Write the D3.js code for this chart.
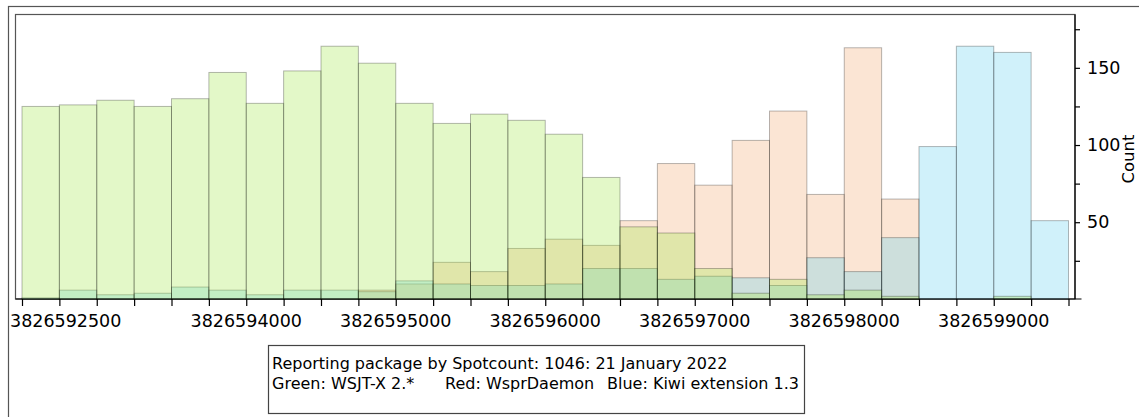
<!DOCTYPE html>
<html>
<head>
<meta charset="utf-8">
<script src="https://cdn.jsdelivr.net/npm/d3@7"></script>
<style>
  html, body { margin: 0; padding: 0; background: #fff; }
  svg { display: block; }
  text { font-family: "DejaVu Sans", sans-serif; fill: #000; }
</style>
</head>
<body>
<svg id="chart" width="1139" height="417"></svg>
<script>
// Histogram of spot frequencies (Hz), 250 Hz bins, one series per reporting package
const binStart = 3826592500;
const binWidth = 250;

const wsjtCounts   = [125, 126, 129, 125, 130, 147, 127, 148, 164, 153, 127, 114, 120, 116, 107, 79, 47, 43, 20, 4, 13, 3, 6, 2, 0, 0, 2, 0];
const daemonCounts = [0, 0, 0, 0, 0, 0, 0, 0, 0, 6, 10, 24, 18, 33, 39, 35, 51, 88, 74, 103, 122, 68, 163, 65, 0, 0, 0, 0];
const kiwiCounts   = [1, 6, 3, 4, 8, 6, 3, 6, 6, 5, 12, 10, 9, 9, 10, 20, 20, 13, 15, 14, 9, 27, 18, 40, 99, 164, 160, 51];

const xTickLabels = [3826592500, 3826594000, 3826595000, 3826596000, 3826597000, 3826598000, 3826599000];
const yTickValues = [25, 50, 75, 100, 125, 150, 175];
const yTickLabels = [50, 100, 150];

const titleLine = "Reporting package by Spotcount: 1046: 21 January 2022";
const legendItems = ["Green: WSJT-X 2.*", "Red: WsprDaemon", "Blue: Kiwi extension 1.3"];

// drawn bottom to top
const series = [
  { name: "WsprDaemon", counts: daemonCounts, color: "rgb(242,168,112)" },
  { name: "Kiwi extension 1.3", counts: kiwiCounts, color: "rgb(98,208,238)" },
  { name: "WSJT-X 2.*", counts: wsjtCounts, color: "rgb(162,232,72)" }
];

const nBins = wsjtCounts.length;
const edges = d3.range(nBins + 1).map(i => binStart + i * binWidth);

const svg = d3.select("#chart");

const plot = { left: 15.5, top: 14.5, right: 1075, bottom: 299 };

const x = d3.scaleLinear()
  .domain([binStart, binStart + nBins * binWidth])
  .range([22, 1068.5]);

const y = d3.scaleLinear()
  .domain([0, 185])
  .range([299.4, 13.8]);

// outer frame
svg.append("rect")
  .attr("x", 8.5).attr("y", 6.5)
  .attr("width", 1300).attr("height", 600)
  .attr("fill", "none")
  .attr("stroke", "#555").attr("stroke-width", 1.2);

// plot frame
svg.append("rect")
  .attr("x", plot.left).attr("y", plot.top)
  .attr("width", plot.right - plot.left).attr("height", plot.bottom - plot.top)
  .attr("fill", "none")
  .attr("stroke", "#555").attr("stroke-width", 1.2);

// bars
series.forEach(s => {
  const bins = s.counts.map((c, i) => ({ x0: edges[i], x1: edges[i + 1], c }))
    .filter(d => d.c > 0);
  svg.append("g")
    .selectAll("rect")
    .data(bins)
    .join("rect")
    .attr("x", d => x(d.x0))
    .attr("y", d => y(d.c))
    .attr("width", d => x(d.x1) - x(d.x0))
    .attr("height", d => y(0) - y(d.c))
    .attr("fill", s.color)
    .attr("fill-opacity", 0.3)
    .attr("stroke", "#000")
    .attr("stroke-opacity", 0.28)
    .attr("stroke-width", 1);
});

// bottom axis: tick at every bin edge
const xAxis = svg.append("g")
  .attr("transform", `translate(0,${plot.bottom})`)
  .call(d3.axisBottom(x).tickValues(edges).tickSize(7).tickFormat(""));
xAxis.select(".domain").remove();
xAxis.selectAll(".tick line").attr("stroke", "#000").attr("stroke-width", 1.2);
svg.append("line")
  .attr("x1", plot.left).attr("x2", 1081.5)
  .attr("y1", plot.bottom).attr("y2", plot.bottom)
  .attr("stroke", "#000").attr("stroke-width", 1.2);

// bottom tick labels (first one kept inside the frame)
const fmt = d3.format("d");
const xl = svg.append("g");
xTickLabels.forEach(v => {
  const t = xl.append("text")
    .attr("y", 326.5)
    .attr("font-size", "17.5px")
    .attr("text-anchor", "middle")
    .attr("x", x(v))
    .text(fmt(v));
  const w = t.node().getComputedTextLength();
  if (x(v) - w / 2 < 10) t.attr("text-anchor", "start").attr("x", 10);
});

// right axis
const yAxis = svg.append("g")
  .attr("transform", `translate(${plot.right},0)`)
  .call(d3.axisRight(y).tickValues(yTickValues).tickSize(5).tickPadding(7)
    .tickFormat(d => yTickLabels.includes(d) ? d : ""));
yAxis.select(".domain").remove();
yAxis.selectAll(".tick line").attr("stroke", "#000").attr("stroke-width", 1.2);
yAxis.selectAll(".tick text")
  .attr("font-family", "DejaVu Sans, sans-serif")
  .attr("font-size", "17.5px")
  .attr("fill", "#000");
svg.append("line")
  .attr("x1", plot.right).attr("x2", plot.right)
  .attr("y1", plot.top).attr("y2", plot.bottom)
  .attr("stroke", "#000").attr("stroke-width", 1.2);

// axis title
svg.append("text")
  .attr("transform", `translate(1134,159) rotate(-90)`)
  .attr("text-anchor", "middle")
  .attr("font-size", "16.5px")
  .text("Count");

// caption box
svg.append("rect")
  .attr("x", 268.5).attr("y", 345.5)
  .attr("width", 536).attr("height", 68)
  .attr("fill", "#fff")
  .attr("stroke", "#444").attr("stroke-width", 1.2);
svg.append("text")
  .attr("x", 272).attr("y", 368.5)
  .attr("font-size", "16px")
  .text(titleLine);
const legendX = [272, 445, 607];
legendItems.forEach((t, i) => {
  svg.append("text")
    .attr("x", legendX[i]).attr("y", 389)
    .attr("font-size", "16px")
    .text(t);
});
</script>
</body>
</html>
